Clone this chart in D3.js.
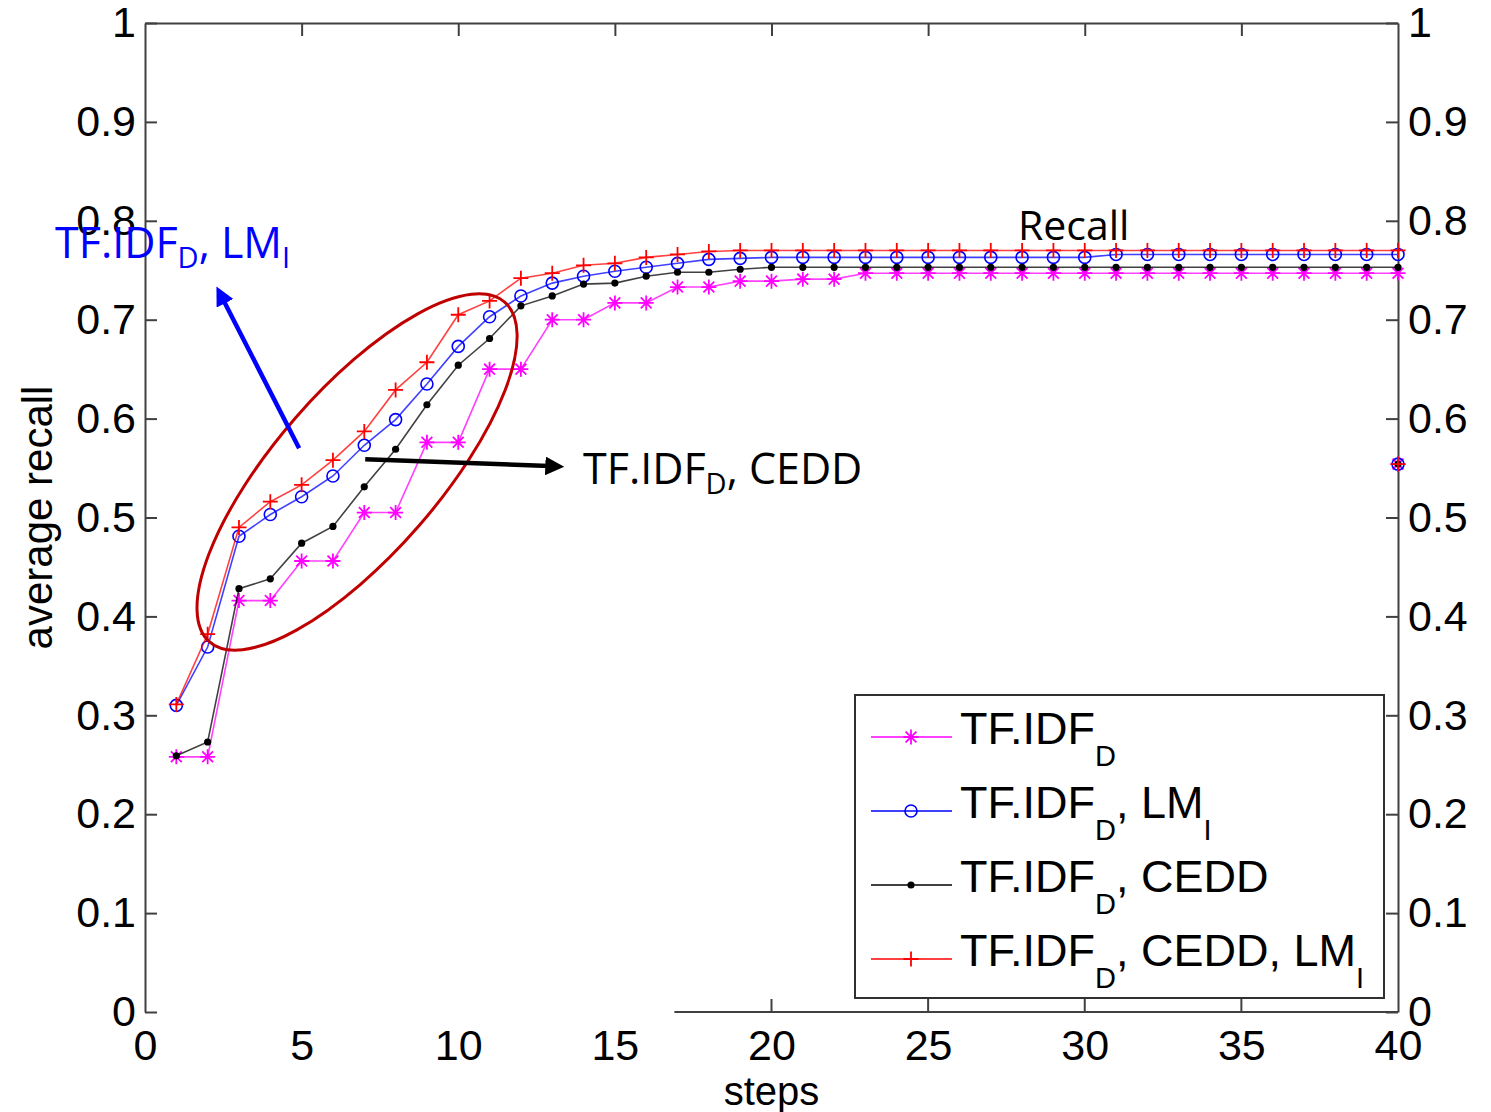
<!DOCTYPE html>
<html>
<head>
<meta charset="utf-8">
<script src="https://cdn.jsdelivr.net/npm/d3@7"></script>
<style>
  body { margin: 0; background: #fff; }
  svg { display: block; }
  .tick text { font-family: "Liberation Sans", Arial, sans-serif; fill: #000; }
</style>
</head>
<body>
<div id="chart"></div>
<script>
// steps on the x axis
var steps = d3.range(1, 41);
var xTicks = [0, 5, 10, 15, 20, 25, 30, 35, 40];
var yTicks = [0, 0.1, 0.2, 0.3, 0.4, 0.5, 0.6, 0.7, 0.8, 0.9, 1];

// average recall per step
var tfidf = [0.258, 0.258, 0.416, 0.416, 0.456, 0.456, 0.505, 0.505, 0.576, 0.576,
             0.650, 0.650, 0.700, 0.700, 0.717, 0.717, 0.733, 0.733, 0.739, 0.739,
             0.741, 0.741, 0.747, 0.747, 0.747, 0.747, 0.747, 0.747, 0.747, 0.747,
             0.747, 0.747, 0.747, 0.747, 0.747, 0.747, 0.747, 0.747, 0.747, 0.747];
var tfidfLm = [0.310, 0.369, 0.481, 0.503, 0.521, 0.542, 0.573, 0.599, 0.635, 0.673,
               0.703, 0.724, 0.737, 0.744, 0.749, 0.753, 0.757, 0.761, 0.762, 0.763,
               0.763, 0.763, 0.763, 0.763, 0.763, 0.763, 0.763, 0.763, 0.763, 0.763,
               0.766, 0.766, 0.766, 0.766, 0.766, 0.766, 0.766, 0.766, 0.766, 0.766];
var tfidfCedd = [0.259, 0.273, 0.428, 0.438, 0.474, 0.491, 0.531, 0.569, 0.614, 0.654,
                 0.681, 0.714, 0.724, 0.736, 0.737, 0.744, 0.748, 0.748, 0.751, 0.753,
                 0.753, 0.753, 0.753, 0.753, 0.753, 0.753, 0.753, 0.753, 0.753, 0.753,
                 0.753, 0.753, 0.753, 0.753, 0.753, 0.753, 0.753, 0.753, 0.753, 0.753];
var tfidfCeddLm = [0.311, 0.382, 0.490, 0.516, 0.533, 0.558, 0.587, 0.629, 0.657, 0.705,
                   0.719, 0.742, 0.747, 0.755, 0.757, 0.763, 0.766, 0.769, 0.770, 0.770,
                   0.770, 0.770, 0.770, 0.770, 0.770, 0.770, 0.770, 0.770, 0.770, 0.770,
                   0.770, 0.770, 0.770, 0.770, 0.770, 0.770, 0.770, 0.770, 0.770, 0.770];
// lone point sitting on the right axis
var strayStep = 40;
var strayValue = 0.554;

var seriesNames = [
  [{t: "TF.IDF"}, {t: "D", sub: true}],
  [{t: "TF.IDF"}, {t: "D", sub: true}, {t: ", LM"}, {t: "I", sub: true}],
  [{t: "TF.IDF"}, {t: "D", sub: true}, {t: ", CEDD"}],
  [{t: "TF.IDF"}, {t: "D", sub: true}, {t: ", CEDD, LM"}, {t: "I", sub: true}]
];
var seriesValues = [tfidf, tfidfLm, tfidfCedd, tfidfCeddLm];
var seriesColors = ["#ff00ff", "#0000ff", "#000000", "#ff0000"];
var seriesMarkers = ["star", "circle", "dot", "plus"];

var W = 1491, H = 1112;
// plot frame (window.top is taken, so prefixed names)
var pLeft = 145, pRight = 1398, pTop = 23, pBottom = 1012;

var x = d3.scaleLinear().domain([0, 40]).range([pLeft, pRight]);
var y = d3.scaleLinear().domain([0, 1]).range([pBottom, pTop]);

var svg = d3.select("#chart").append("svg")
  .attr("width", W).attr("height", H);

var fmt = function(d) { return d === 0 ? "0" : String(+d.toFixed(1)); };
var axisColor = "#404040";

function styleAxis(g) {
  g.selectAll(".domain").attr("stroke", axisColor).attr("stroke-width", 2);
  g.selectAll(".tick line").attr("stroke", axisColor).attr("stroke-width", 2);
  g.selectAll(".tick text").attr("font-size", 43);
}

// left axis
svg.append("g")
  .attr("transform", "translate(" + pLeft + ",0)")
  .call(d3.axisLeft(y).tickValues(yTicks).tickFormat(fmt).tickSize(-12).tickSizeOuter(0).tickPadding(9))
  .call(styleAxis);

// right axis
svg.append("g")
  .attr("transform", "translate(" + pRight + ",0)")
  .call(d3.axisRight(y).tickValues(yTicks).tickFormat(fmt).tickSize(-12).tickSizeOuter(0).tickPadding(10))
  .call(styleAxis);

// top axis, ticks only
svg.append("g")
  .attr("transform", "translate(0," + pTop + ")")
  .call(d3.axisTop(x).tickValues(xTicks.slice(1, -1)).tickSize(-13).tickSizeOuter(0).tickFormat(""))
  .call(styleAxis);

// bottom axis: labels everywhere, line only on the right part
var botAx = svg.append("g")
  .attr("transform", "translate(0," + pBottom + ")")
  .call(d3.axisBottom(x).tickValues(xTicks).tickSize(0).tickPadding(14))
  .call(styleAxis);
botAx.select(".domain").remove();
botAx.selectAll(".tick text").attr("dy", "0.8em");

svg.append("line")
  .attr("x1", x(16.9)).attr("x2", x(40))
  .attr("y1", pBottom).attr("y2", pBottom)
  .attr("stroke", axisColor).attr("stroke-width", 2);
svg.selectAll(".btick").data([20, 25, 30, 35]).enter().append("line")
  .attr("class", "btick")
  .attr("x1", function(d) { return x(d); }).attr("x2", function(d) { return x(d); })
  .attr("y1", pBottom).attr("y2", pBottom - 13)
  .attr("stroke", axisColor).attr("stroke-width", 2);

// axis titles
svg.append("text")
  .attr("x", x(20)).attr("y", 1105)
  .attr("text-anchor", "middle")
  .attr("font-family", "Liberation Sans, Arial, sans-serif")
  .attr("font-size", 40)
  .text("steps");
svg.append("text")
  .attr("transform", "translate(52," + y(0.5) + ") rotate(-90)")
  .attr("text-anchor", "middle")
  .attr("font-family", "Liberation Sans, Arial, sans-serif")
  .attr("font-size", 42)
  .text("average recall");

// marker drawing
function marker(g, type, color, cx, cy) {
  var s = 7.5;
  if (type === "star") {
    var d = s * 0.72;
    g.append("path")
      .attr("d", "M" + (cx - s) + "," + cy + "H" + (cx + s) +
                 "M" + cx + "," + (cy - s) + "V" + (cy + s) +
                 "M" + (cx - d) + "," + (cy - d) + "L" + (cx + d) + "," + (cy + d) +
                 "M" + (cx - d) + "," + (cy + d) + "L" + (cx + d) + "," + (cy - d))
      .attr("stroke", color).attr("stroke-width", 1.8).attr("fill", "none");
  } else if (type === "plus") {
    g.append("path")
      .attr("d", "M" + (cx - s) + "," + cy + "H" + (cx + s) +
                 "M" + cx + "," + (cy - s) + "V" + (cy + s))
      .attr("stroke", color).attr("stroke-width", 1.8).attr("fill", "none");
  } else if (type === "circle") {
    g.append("circle").attr("cx", cx).attr("cy", cy).attr("r", 6)
      .attr("stroke", color).attr("stroke-width", 1.6).attr("fill", "none");
  } else {
    g.append("circle").attr("cx", cx).attr("cy", cy).attr("r", 3.6)
      .attr("fill", color);
  }
}

var line = d3.line()
  .x(function(d, i) { return x(steps[i]); })
  .y(function(d) { return y(d); });

var plot = svg.append("g");
seriesValues.forEach(function(vals, k) {
  var g = plot.append("g");
  g.append("path")
    .datum(vals)
    .attr("d", line)
    .attr("fill", "none")
    .attr("stroke", seriesColors[k])
    .attr("stroke-opacity", 0.75)
    .attr("stroke-width", 1.6);
  vals.forEach(function(v, i) {
    marker(g, seriesMarkers[k], seriesColors[k], x(steps[i]), y(v));
  });
});
// the lone points on the right edge
seriesValues.forEach(function(vals, k) {
  marker(plot, seriesMarkers[k], seriesColors[k], x(strayStep), y(strayValue));
});

// rich text with subscripts
function richText(g, parts, px, py, size, subSize, subShift, color, family) {
  var t = g.append("text")
    .attr("x", px).attr("y", py)
    .attr("font-family", family)
    .attr("font-size", size)
    .attr("fill", color);
  var shifted = false;
  parts.forEach(function(p) {
    var s = t.append("tspan").text(p.t);
    if (p.sub && !shifted) { s.attr("dy", subShift).attr("font-size", subSize); shifted = true; }
    else if (p.sub) { s.attr("font-size", subSize); }
    else if (shifted) { s.attr("dy", -subShift); shifted = false; }
  });
  return t;
}

// legend
var legend = svg.append("g");
legend.append("rect")
  .attr("x", 855).attr("y", 695).attr("width", 529).attr("height", 303)
  .attr("fill", "#fff").attr("stroke", "#303030").attr("stroke-width", 2);
seriesNames.forEach(function(parts, k) {
  var ly = 737 + k * 74;
  legend.append("line")
    .attr("x1", 871).attr("x2", 952).attr("y1", ly).attr("y2", ly)
    .attr("stroke", seriesColors[k]).attr("stroke-width", 1.6);
  marker(legend, seriesMarkers[k], seriesColors[k], 911, ly);
  richText(legend, parts, 960, ly + 7, 45, 29, 22, "#000", "Liberation Sans, Arial, sans-serif");
});

// annotations
var ann = svg.append("g");
var annFont = "Open Sans, sans-serif";

// ellipse round the early steps
ann.append("ellipse")
  .attr("cx", 0).attr("cy", 0).attr("rx", 225).attr("ry", 82)
  .attr("transform", "translate(" + x(6.77) + "," + y(0.546) + ") rotate(-49)")
  .attr("fill", "none").attr("stroke", "#c00000").attr("stroke-width", 3);

var defs = svg.append("defs");
[["arrBlue", "#0000ff"], ["arrBlack", "#000000"]].forEach(function(a) {
  defs.append("marker")
    .attr("id", a[0]).attr("viewBox", "0 0 10 10")
    .attr("refX", 2).attr("refY", 5)
    .attr("markerWidth", 4.2).attr("markerHeight", 4.2)
    .attr("orient", "auto")
    .append("path").attr("d", "M0,0L10,5L0,10z").attr("fill", a[1]);
});

ann.append("line")
  .attr("x1", x(4.92)).attr("y1", y(0.570))
  .attr("x2", x(2.5)).attr("y2", y(0.720))
  .attr("stroke", "#0000ff").attr("stroke-width", 4.5)
  .attr("marker-end", "url(#arrBlue)");
ann.append("line")
  .attr("x1", x(7.03)).attr("y1", y(0.559))
  .attr("x2", x(12.9)).attr("y2", y(0.552))
  .attr("stroke", "#000").attr("stroke-width", 4.5)
  .attr("marker-end", "url(#arrBlack)");

richText(ann, seriesNames[1], 55, 258, 43, 29, 10, "#0000ff", annFont);
richText(ann, seriesNames[2], 583, 484, 43, 29, 10, "#000", annFont);
ann.append("text")
  .attr("x", 1018).attr("y", 240)
  .attr("font-family", annFont).attr("font-size", 41)
  .text("Recall");
</script>
</body>
</html>
